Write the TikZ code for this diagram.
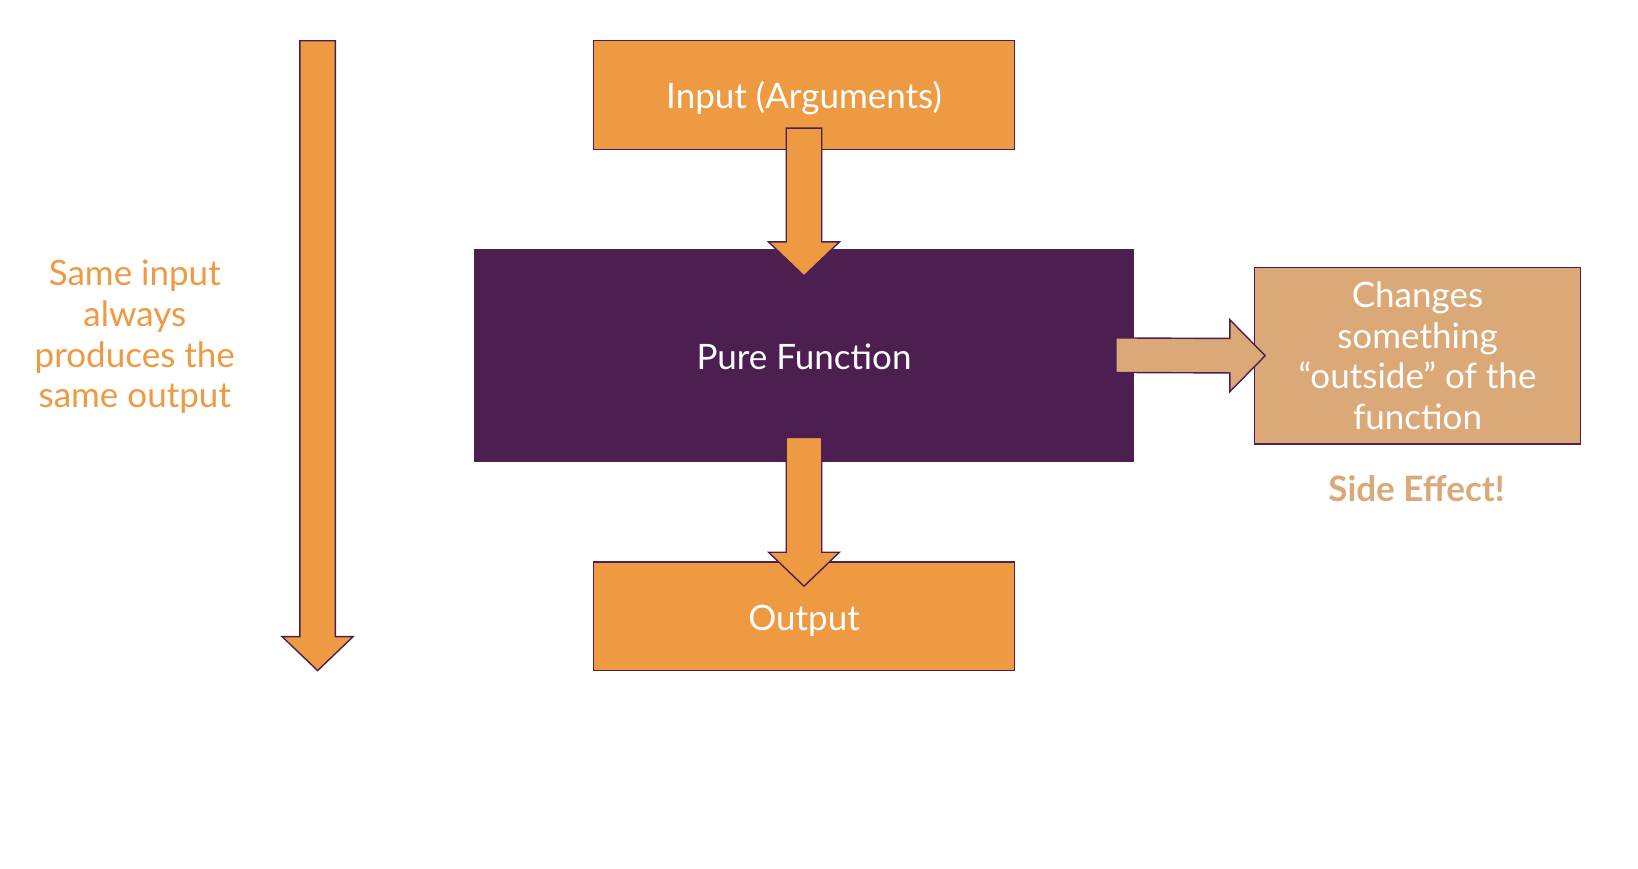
\documentclass[tikz,border=0pt]{standalone}
\usepackage{fontspec}
\setmainfont{Lato}
\usetikzlibrary{calc}
\definecolor{orng}{HTML}{EE9A42}
\definecolor{purp}{HTML}{4D1E50}
\definecolor{tanc}{HTML}{DAA977}
\tikzset{
  box/.style={draw=purp, line width=1.6pt, fill=orng, text=white, inner sep=0pt,
    font=\fontsize{35}{40.7}\selectfont, align=center},
  fatarrow/.style={draw=purp, line width=1.4pt, fill=orng, line join=miter},
  sidearrow/.style={draw=purp, line width=1.4pt, fill=tanc, line join=miter},
  note/.style={text=orng, font=\fontsize{35}{40.7}\selectfont, align=center}
}
\newcommand\lowered[2]{\raisebox{-#1}[\height][\depth]{#2}}
\newcommand\fatdown[2]{%
  \draw[fatarrow] ($(#1)+(-17.75,0)$) -- ($(#1)+(17.75,0)$) -- ($(#2)+(17.75,-34)$)
    -- ($(#2)+(35.5,-34)$) -- (#2) -- ($(#2)+(-35.5,-34)$) -- ($(#2)+(-17.75,-34)$) -- cycle;}
\newcommand\fatright[2]{%
  \draw[sidearrow] ($(#1)+(0,-17.25)$) -- ($(#2)+(-35.4,-17.25)$) -- ($(#2)+(-35.4,-36)$)
    -- (#2) -- ($(#2)+(-35.4,36)$) -- ($(#2)+(-35.4,17.25)$) -- ($(#1)+(0,17.25)$) -- cycle;}
\begin{document}
\begin{tikzpicture}[x=1pt,y=-1pt]
\useasboundingbox[fill=white] (0,0) rectangle (1638,868);
% boxes
\node[box, minimum width=421pt, minimum height=108.7pt] (in) at (804,95) {\lowered{3pt}{Input (Arguments)}};
\node[box, fill=purp, draw=purp, minimum width=658pt, minimum height=211pt] (pf) at (804,355.2) {\lowered{2pt}{Pure Function}};
\node[box, minimum width=421pt, minimum height=108.6pt] (out) at (804,616.3) {\lowered{5pt}{Output}};
\node[box, fill=tanc, minimum width=326pt, minimum height=176.6pt] (se) at (1417.5,355.7)
  {Changes\\something\\“outside” of the\\function};
\node[note, text=tanc, font=\fontsize{35}{40.7}\bfseries\selectfont] (setext) at (1416.5,489) {Side Effect!};
\node[note] (same) at (134.8,337) {Same input\\always\\produces the\\same output};
% left arrow
\coordinate (ltop) at (317.6,40.7);
\coordinate (ltip) at (317.6,670.6);
\fatdown{ltop}{ltip}
% connectors
\coordinate (a1s) at ($(in.south)+(0,-22)$);
\coordinate (a1t) at ($(pf.north)+(0,27)$);
\fatdown{a1s}{a1t}
\coordinate (a2s) at ($(pf.south)+(0,-24)$);
\coordinate (a2t) at ($(out.north)+(0,25)$);
\fatdown{a2s}{a2t}
\coordinate (a3s) at ($(pf.east)+(-18,0)$);
\coordinate (a3t) at ($(se.west)+(11.5,0)$);
\fatright{a3s}{a3t}
\end{tikzpicture}
\end{document}
